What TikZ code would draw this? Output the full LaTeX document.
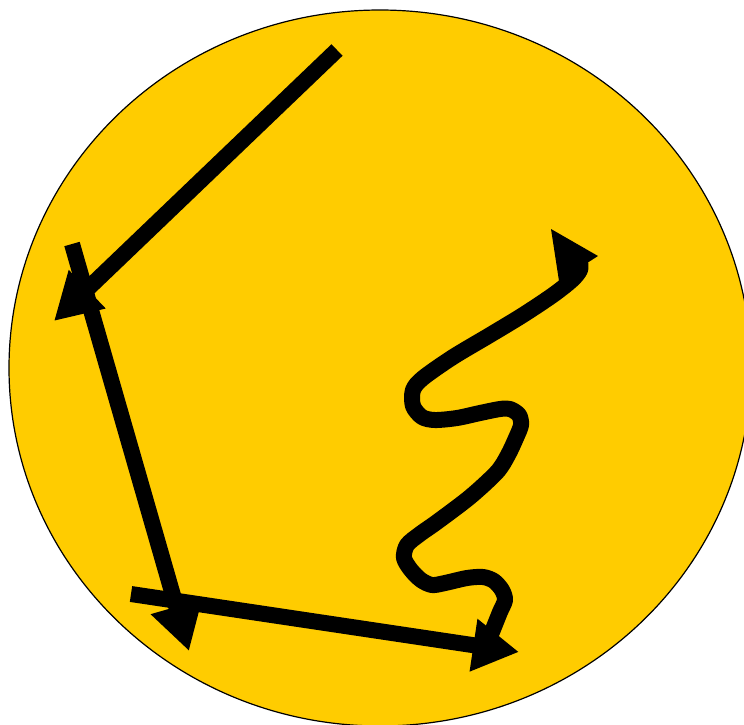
\documentclass[tikz,border=0pt]{standalone}
\usetikzlibrary{arrows.meta}
\definecolor{sunyellow}{RGB}{255,204,0}
\tikzset{
  thickarrow/.style={line width=16pt, draw=black, -{Triangle[length=46pt,width=50pt]}},
  squiggle/.style={line width=16pt, draw=black, line join=round, line cap=round}
}
\begin{document}
\begin{tikzpicture}[x=1pt,y=-1pt]
\useasboundingbox (0,0) rectangle (744,724);
\clip (0,0) rectangle (744,724);
\fill[white] (0,0) rectangle (744,724);
\draw[fill=sunyellow, draw=black, line width=1.2pt] (380,368) ellipse [x radius=371pt, y radius=358pt];
% coordinates
\coordinate (a1s) at (337,50);
\coordinate (a1e) at (54,321);
\coordinate (a2s) at (72,244);
\coordinate (a2e) at (189,651);
\coordinate (a3s) at (131,594);
\coordinate (a3e) at (519,652);
\draw[thickarrow] (a1s) -- (a1e);
\draw[thickarrow] (a2s) -- (a2e);
\draw[thickarrow] (a3s) -- (a3e);
% squiggly line
\draw[squiggle] plot[smooth, tension=0.5] coordinates {
 (492,632) (500,612) (505,600) (502,590) (494,581) (483,577) (467,578) (445,583) (432,585)
 (421,580) (411,570) (404,558) (407,545) (420,534) (437,522) (470,497) (497,472) (508,455)
 (516,438) (521,425) (519,415) (510,409) (500,409) (480,413) (457,418) (435,420) (422,417)
 (413,406) (413,390) (423,378) (453,357) (490,335) (523,315) (553,295) (572,280) (580,270) (580,262)};
\coordinate (sqtip) at (598,256);
\coordinate (sqb1) at (551,229);
\coordinate (sqb2) at (559,281);
\fill[black] (sqtip) -- (sqb1) -- (sqb2) -- cycle;
\end{tikzpicture}
\end{document}
